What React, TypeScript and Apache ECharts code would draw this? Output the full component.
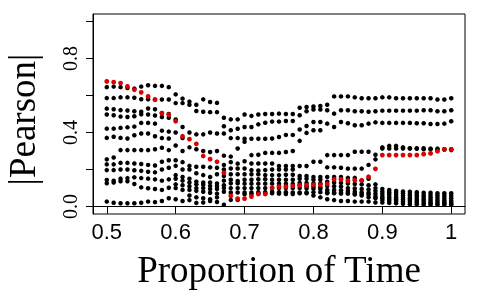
import React, { useEffect, useRef } from 'react';
import * as echarts from 'echarts';

const xs = [
  0.5, 0.51, 0.52, 0.53, 0.54, 0.55, 0.56, 0.57, 0.58, 0.59,
  0.6, 0.61, 0.62, 0.63, 0.64, 0.65, 0.66, 0.67, 0.68, 0.69,
  0.7, 0.71, 0.72, 0.73, 0.74, 0.75, 0.76, 0.77, 0.78, 0.79,
  0.8, 0.81, 0.82, 0.83, 0.84, 0.85, 0.86, 0.87, 0.88, 0.89,
  0.9, 0.91, 0.92, 0.93, 0.94, 0.95, 0.96, 0.97, 0.98, 0.99, 1.0,
];

const xTicks = [0.5, 0.6, 0.7, 0.8, 0.9, 1.0];
const yTicks = [0, 0.2, 0.4, 0.6, 0.8, 1.0];
const yLabels = [0, 0.4, 0.8];

const red = [
  0.676, 0.672, 0.667, 0.649, 0.631, 0.617, 0.595, 0.577, 0.505, 0.497,
  0.461, 0.38, 0.364, 0.339, 0.273, 0.256, 0.242, 0.183, 0.058, 0.043,
  0.043, 0.054, 0.068, 0.068, 0.102, 0.108, 0.108, 0.111, 0.115, 0.115,
  0.118, 0.118, 0.122, 0.147, 0.147, 0.14, 0.142, 0.142, 0.161, 0.204,
  0.278, 0.278, 0.278, 0.278, 0.278, 0.278, 0.283, 0.287, 0.299, 0.309, 0.309,
];

const s1 = [
  0.645, 0.648, 0.645, 0.64, 0.637, 0.648, 0.655, 0.652, 0.652, 0.645,
  0.606, 0.583, 0.567, 0.55, 0.579, 0.565, 0.56, 0.48, 0.471, 0.471,
  0.497, 0.49, 0.497, 0.5, 0.5, 0.502, 0.5, 0.5, 0.534, 0.538,
  0.541, 0.543, 0.55, 0.595, 0.595, 0.595, 0.59, 0.585, 0.585, 0.585,
  0.59, 0.59, 0.585, 0.585, 0.585, 0.585, 0.585, 0.585, 0.578, 0.578, 0.585,
];
const s2 = [
  0.586, 0.586, 0.59, 0.59, 0.588, 0.58, 0.58, 0.578, 0.578, 0.578,
  0.559, 0.559, 0.55, 0.516, 0.512, 0.51, 0.51, 0.434, 0.412, 0.42,
  0.43, 0.43, 0.444, 0.453, 0.459, 0.459, 0.462, 0.462, 0.493, 0.515,
  0.524, 0.524, 0.52, 0.502, 0.52, 0.52, 0.515, 0.515, 0.512, 0.515,
  0.518, 0.518, 0.518, 0.518, 0.518, 0.518, 0.52, 0.52, 0.515, 0.515, 0.52,
];
const s3 = [
  0.529, 0.526, 0.521, 0.519, 0.515, 0.512, 0.53, 0.526, 0.505, 0.5,
  0.47, 0.43, 0.4, 0.39, 0.39, 0.4, 0.395, 0.395, 0.37, 0.37,
  0.366, 0.366, 0.366, 0.366, 0.368, 0.376, 0.387, 0.387, 0.416, 0.435,
  0.457, 0.457, 0.448, 0.43, 0.457, 0.45, 0.439, 0.439, 0.448, 0.455,
  0.452, 0.452, 0.452, 0.452, 0.452, 0.45, 0.45, 0.446, 0.446, 0.448, 0.461,
];
const s4 = [
  0.497, 0.493, 0.486, 0.484, 0.488, 0.498, 0.497, 0.492, 0.484, 0.48,
  0.4, 0.37, 0.32, 0.31, 0.3, 0.295, 0.3, 0.275, 0.27, 0.314,
  0.35, 0.278, 0.28, 0.29, 0.29, 0.29, 0.295, 0.3, 0.355, 0.398,
  0.412, 0.412, 0.278, 0.278, 0.278, 0.278, 0.296, 0.296, 0.296, 0.28,
  0.32, 0.328, 0.328, 0.314, 0.314, 0.312, 0.31, 0.31, 0.308, 0.308, 0.305,
];
const s5 = [
  0.421, 0.421, 0.425, 0.428, 0.432, 0.452, 0.452, 0.448, 0.41, 0.405,
  0.33, 0.3, 0.22, 0.215, 0.215, 0.212, 0.21, 0.225, 0.24, 0.232,
  0.245, 0.233, 0.233, 0.233, 0.233, 0.219, 0.219, 0.219, 0.219, 0.219,
  0.242, 0.242, 0.212, 0.212, 0.21, 0.205, 0.205, 0.205, 0.225, 0.255,
  0.314, 0.314, 0.314, 0.32, 0.315, 0.315, 0.315, 0.313, 0.313, 0.31, 0.31,
];
const s6 = [
  0.371, 0.377, 0.371, 0.368, 0.385, 0.395, 0.395, 0.38, 0.37, 0.368,
  0.25, 0.24, 0.2, 0.18, 0.17, 0.16, 0.175, 0.2, 0.206, 0.206,
  0.206, 0.197, 0.195, 0.197, 0.2, 0.2, 0.2, 0.2, 0.165, 0.165,
  0.16, 0.16, 0.16, 0.16, 0.16, 0.155, 0.155, 0.14, 0.15, 0.12,
  0.095, 0.09, 0.085, 0.082, 0.08, 0.078, 0.075, 0.075, 0.072, 0.072, 0.072,
];
const s7 = [
  0.255, 0.265, 0.305, 0.305, 0.305, 0.305, 0.305, 0.31, 0.318, 0.305,
  0.22, 0.2, 0.15, 0.135, 0.13, 0.13, 0.125, 0.165, 0.175, 0.175,
  0.175, 0.175, 0.175, 0.17, 0.17, 0.17, 0.172, 0.172, 0.15, 0.15,
  0.145, 0.145, 0.134, 0.13, 0.128, 0.125, 0.122, 0.12, 0.115, 0.1,
  0.08, 0.078, 0.075, 0.072, 0.068, 0.065, 0.062, 0.062, 0.06, 0.059, 0.059,
];
const s8 = [
  0.228, 0.228, 0.236, 0.236, 0.233, 0.23, 0.225, 0.222, 0.242, 0.25,
  0.17, 0.16, 0.13, 0.12, 0.118, 0.112, 0.11, 0.14, 0.145, 0.138,
  0.145, 0.145, 0.148, 0.148, 0.145, 0.145, 0.145, 0.145, 0.128, 0.128,
  0.125, 0.125, 0.111, 0.11, 0.108, 0.1, 0.098, 0.095, 0.092, 0.085,
  0.068, 0.065, 0.062, 0.06, 0.058, 0.055, 0.052, 0.05, 0.048, 0.046, 0.045,
];
const s9 = [
  0.197, 0.197, 0.2, 0.2, 0.196, 0.193, 0.188, 0.185, 0.2, 0.21,
  0.15, 0.14, 0.11, 0.1, 0.1, 0.095, 0.095, 0.115, 0.126, 0.126,
  0.124, 0.124, 0.124, 0.124, 0.124, 0.124, 0.124, 0.122, 0.115, 0.11,
  0.108, 0.105, 0.09, 0.09, 0.088, 0.085, 0.08, 0.078, 0.075, 0.07,
  0.055, 0.052, 0.05, 0.048, 0.045, 0.042, 0.04, 0.038, 0.036, 0.034, 0.031,
];
const s10 = [
  0.144, 0.14, 0.151, 0.154, 0.158, 0.154, 0.151, 0.147, 0.14, 0.147,
  0.12, 0.115, 0.09, 0.085, 0.08, 0.075, 0.07, 0.1, 0.1, 0.1,
  0.1, 0.1, 0.1, 0.1, 0.1, 0.1, 0.1, 0.1, 0.1, 0.098,
  0.096, 0.095, 0.078, 0.076, 0.075, 0.074, 0.07, 0.068, 0.065, 0.055,
  0.045, 0.042, 0.04, 0.038, 0.036, 0.032, 0.03, 0.028, 0.026, 0.024, 0.022,
];
const s11 = [
  0.126, 0.13, 0.137, 0.137, 0.122, 0.104, 0.099, 0.095, 0.09, 0.102,
  0.1, 0.09, 0.06, 0.05, 0.045, 0.04, 0.05, 0.08, 0.076, 0.076,
  0.076, 0.076, 0.078, 0.078, 0.08, 0.078, 0.078, 0.076, 0.076, 0.076,
  0.078, 0.078, 0.072, 0.072, 0.07, 0.07, 0.065, 0.06, 0.05, 0.045,
  0.035, 0.032, 0.03, 0.028, 0.025, 0.022, 0.02, 0.018, 0.016, 0.015, 0.013,
];
const s12 = [
  0.027, 0.021, 0.018, 0.018, 0.018, 0.021, 0.027, 0.024, 0.03, 0.045,
  0.04, 0.03, 0.035, 0.02, 0.022, 0.03, 0.025, 0.01, 0.036, 0.036,
  0.066, 0.066, 0.07, 0.07, 0.072, 0.07, 0.068, 0.068, 0.072, 0.072,
  0.06, 0.05, 0.04, 0.035, 0.03, 0.03, 0.027, 0.027, 0.027, 0.022,
  0.022, 0.02, 0.018, 0.015, 0.013, 0.012, 0.01, 0.01, 0.01, 0.01, 0.01,
];

const blackRows = [s1, s2, s3, s4, s5, s6, s7, s8, s9, s10, s11, s12];

export default function App() {
  const ref = useRef<HTMLDivElement>(null);
  useEffect(() => {
    if (!ref.current) return;
    const chart = echarts.init(ref.current, null, { renderer: 'svg' });
    const toPts = (arr: number[]) => arr.map((v, i) => [xs[i], v]);
    const series: any[] = blackRows.map((row, k) => ({
      type: 'scatter',
      name: 'black' + (k + 1),
      data: toPts(row),
      symbol: 'circle',
      symbolSize: 4.5,
      itemStyle: { color: '#000000', opacity: 1 },
      silent: true,
    }));
    series.push({
      type: 'scatter',
      name: 'red',
      data: toPts(red),
      symbol: 'circle',
      symbolSize: 4.8,
      itemStyle: { color: '#dd0000', opacity: 1 },
      silent: true,
      z: 5,
    });
    chart.setOption({
      animation: false,
      grid: {
        left: 93,
        right: 15,
        top: 14,
        bottom: 86,
        show: true,
        borderColor: '#000',
        borderWidth: 1,
        backgroundColor: 'transparent',
      },
      xAxis: {
        type: 'value',
        min: 0.48,
        max: 1.02,
        splitLine: { show: false },
        axisLine: { lineStyle: { color: '#000', width: 1 } },
        axisTick: { customValues: xTicks, length: 7, lineStyle: { color: '#000' } },
        axisLabel: {
          customValues: xTicks,
          formatter: (v: number) => (Math.abs(v - 1) < 1e-9 ? '1' : v.toFixed(1)),
          fontFamily: 'Liberation Sans',
          fontSize: 22,
          color: '#000',
          margin: 6,
        },
      },
      yAxis: {
        type: 'value',
        min: -0.04,
        max: 1.04,
        splitLine: { show: false },
        axisLine: { lineStyle: { color: '#000', width: 1 } },
        axisTick: { customValues: yTicks, length: 7, lineStyle: { color: '#000' } },
        axisLabel: {
          customValues: yLabels,
          formatter: (v: number) => v.toFixed(1),
          rotate: 90,
          fontFamily: 'Liberation Serif',
          fontSize: 20,
          color: '#000',
          margin: 13,
        },
      },
      graphic: [
        {
          type: 'text',
          x: 279,
          y: 269,
          style: {
            text: 'Proportion of Time',
            font: '37px "Liberation Serif"',
            fill: '#000',
            align: 'center',
            verticalAlign: 'middle',
          },
        },
        {
          type: 'text',
          x: 22.5,
          y: 119.5,
          rotation: Math.PI / 2,
          style: {
            text: '|Pearson|',
            font: '37px "Liberation Serif"',
            fill: '#000',
            align: 'center',
            verticalAlign: 'middle',
          },
        },
      ],
      series,
    });
    return () => chart.dispose();
  }, []);
  return (
    <div
      ref={ref}
      style={{ position: 'fixed', left: 0, top: 0, width: 480, height: 300 }}
    />
  );
}
